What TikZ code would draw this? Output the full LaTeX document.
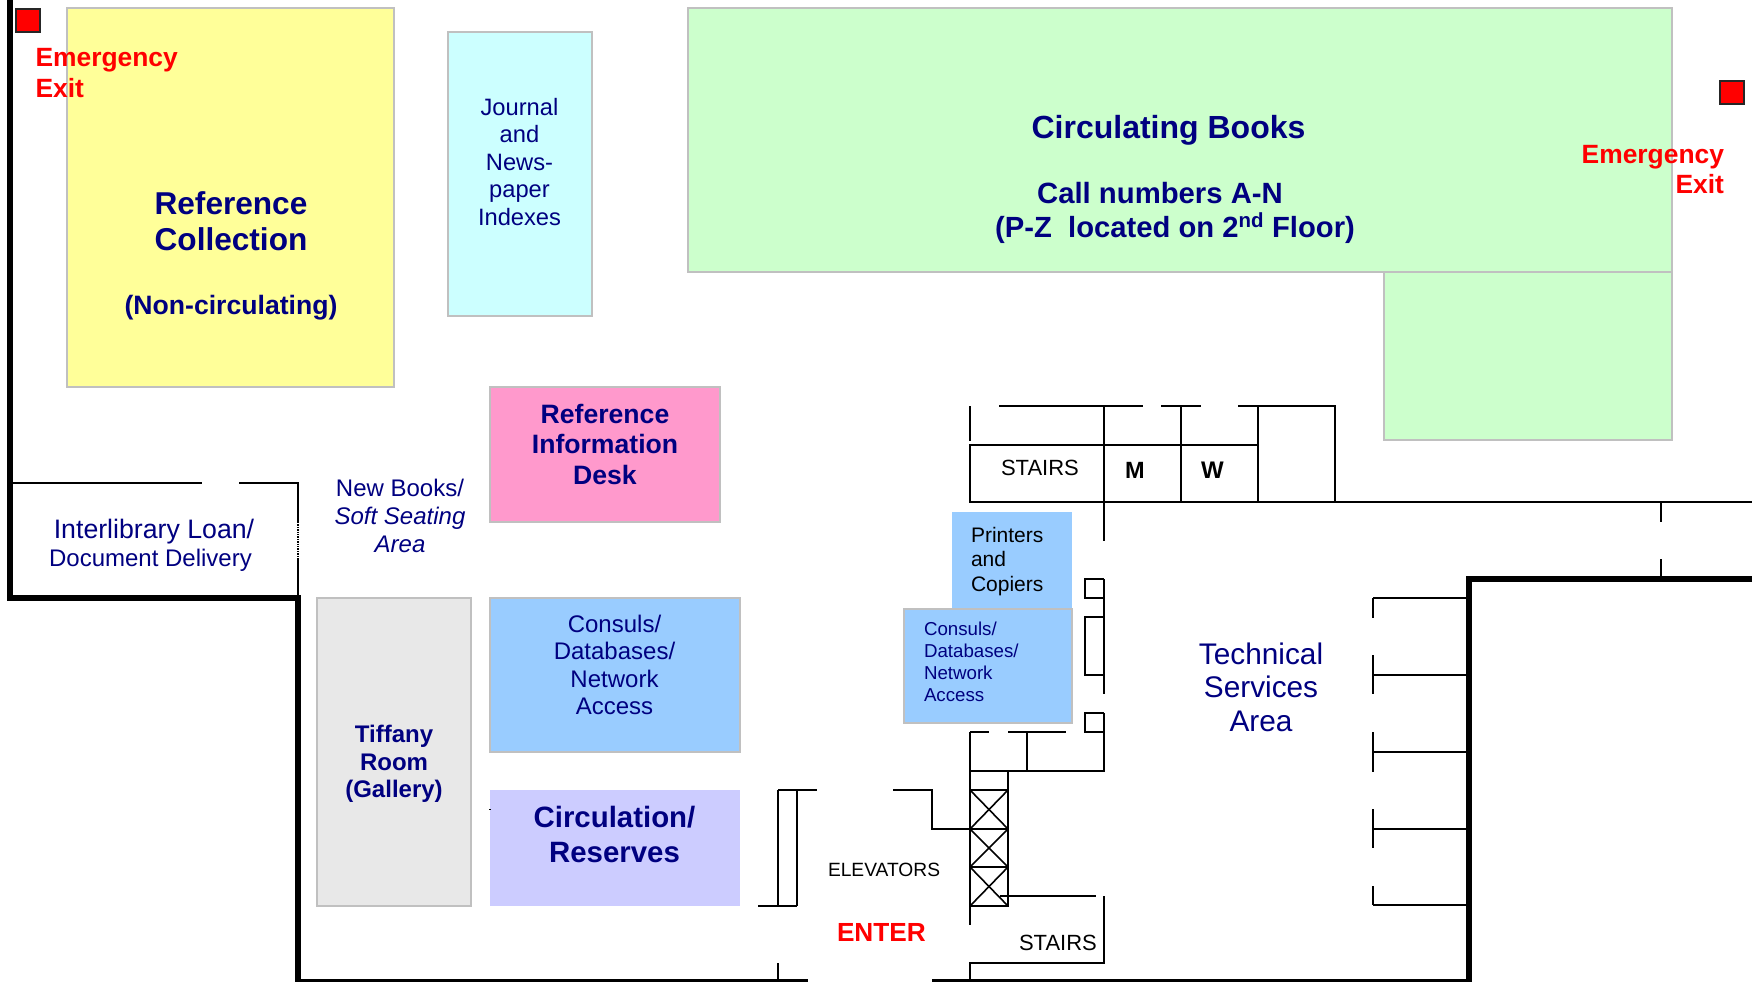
\documentclass[tikz,border=0pt]{standalone}
\usepackage{fontspec}
\setmainfont{Liberation Sans}
\definecolor{navyt}{HTML}{000080}
\definecolor{bordg}{HTML}{C0C0C0}
\definecolor{greenf}{RGB}{204,255,204}
\definecolor{yellowf}{RGB}{255,255,153}
\definecolor{cyanf}{RGB}{204,255,255}
\definecolor{pinkf}{RGB}{255,153,204}
\definecolor{greyf}{RGB}{232,232,232}
\definecolor{bluef}{RGB}{153,204,255}
\definecolor{lilacf}{RGB}{204,204,255}
\newcommand{\fs}[2]{\fontsize{#1}{#2}\selectfont}
\tikzset{
  x=1pt,y=-1pt,
  room/.style={draw=bordg,line width=1.6pt},
  wall/.style={draw=black,line width=5.5pt,line join=miter},
  thin wall/.style={draw=black,line width=1.6pt,line cap=butt},
  floor line/.style={draw=black,line width=3pt},
  exit box/.style={draw=black!85,line width=1.4pt,fill=red},
  lab/.style={anchor=base,inner sep=0pt,outer sep=0pt,align=center,text=navyt},
  labl/.style={anchor=base west,inner sep=0pt,outer sep=0pt,align=left},
  labr/.style={anchor=base east,inner sep=0pt,outer sep=0pt,align=right},
  emerg/.style={text=red,font=\bfseries\fs{26.4}{30.5}},
}
\begin{document}
\begin{tikzpicture}
\useasboundingbox (0,0) rectangle (1752,982);
% coloured areas
\draw[room,fill=greenf] (1384,272) rectangle (1672,440);
\draw[room,fill=greenf] (688,8) rectangle (1672,272);
\draw[room,fill=yellowf] (67,8) rectangle (394,387);
\draw[room,fill=cyanf] (448,32) rectangle (592,316);
\draw[room,fill=pinkf] (490,387) rectangle (720,522);
\draw[room,fill=greyf] (317,598) rectangle (471,906);
\draw[room,fill=bluef] (490,598) rectangle (740,752);
\fill[lilacf] (490,790) rectangle (740,906);
\fill[bluef] (952,512) rectangle (1072,609);
\draw[room,fill=bluef] (904,609) rectangle (1072,723);
% exterior walls
\draw[wall] (10,0) -- (10,598) -- (298,598) -- (298,982);
\draw[wall] (1752,579) -- (1469,579) -- (1469,982);
\draw[floor line] (298,980) -- (808,980);
\draw[floor line] (932,980) -- (1469,980);
% interlibrary room
\draw[thin wall] (10,483) -- (202,483);
\draw[thin wall] (239,483) -- (298,483) -- (298,522);
\draw[draw=black,line width=1.4pt,densely dotted] (298,522) -- (298,558);
\draw[thin wall] (298,558) -- (298,598);
% upper core
\draw[thin wall] (999,406) -- (1143,406);
\draw[thin wall] (1161,406) -- (1201,406);
\draw[thin wall] (1238,406) -- (1335,406) -- (1335,502);
\draw[thin wall] (970,406) -- (970,441);
\draw[thin wall] (970,445) rectangle (1258,502);
\draw[thin wall] (1104,406) -- (1104,541);
\draw[thin wall] (1181,406) -- (1181,502);
\draw[thin wall] (1258,406) -- (1258,502);
\draw[thin wall] (1258,502) -- (1752,502);
\draw[thin wall] (1661,502) -- (1661,522);
\draw[thin wall] (1661,559) -- (1661,579);
% columns along the corridor
\draw[thin wall] (1104,579) -- (1085,579) -- (1085,598) -- (1104,598);
\draw[thin wall] (1104,617) -- (1085,617) -- (1085,675) -- (1104,675);
\draw[thin wall] (1104,579) -- (1104,694);
\draw[thin wall] (1104,713) -- (1085,713) -- (1085,732) -- (1104,732);
\draw[thin wall] (1104,713) -- (1104,771) -- (970,771);
\draw[thin wall] (970,732) -- (989,732);
\draw[thin wall] (1008,732) -- (1066,732);
\draw[thin wall] (970,732) -- (970,925);
\draw[thin wall] (1027,732) -- (1027,771);
% elevators
\draw[thin wall] (1008,771) -- (1008,906);
\foreach \ya/\yb in {790/829,829/867,867/906}{
  \draw[thin wall] (970,\ya) rectangle (1008,\yb);
  \draw[thin wall] (970,\ya) -- (1008,\yb);
  \draw[thin wall] (1008,\ya) -- (970,\yb);
}
\draw[thin wall] (778,790) -- (817,790);
\draw[thin wall] (778,790) -- (778,906);
\draw[thin wall] (797,790) -- (797,906);
\draw[thin wall] (758,906) -- (797,906);
\draw[thin wall] (893,790) -- (932,790) -- (932,829) -- (970,829);
\draw[thin wall] (1000,896) -- (1096,896);
\draw[thin wall] (1104,896) -- (1104,963) -- (970,963) -- (970,980);
\draw[thin wall] (778,963) -- (778,980);
\draw[draw=black,line width=0.8pt] (489,809) -- (491,809);
% right-hand partitions
\foreach \yy in {598,675,752,829,905}{
  \draw[thin wall] (1373,\yy) -- (1469,\yy);
}
\draw[thin wall] (1373,598) -- (1373,618);
\draw[thin wall] (1373,655) -- (1373,694);
\draw[thin wall] (1373,732) -- (1373,772);
\draw[thin wall] (1373,809) -- (1373,848);
\draw[thin wall] (1373,886) -- (1373,905);
% exits
\draw[exit box] (16,9) rectangle (40,32);
\draw[exit box] (1720,81) rectangle (1744,104);
\node[labl,emerg] (exitl) at (35.5,97) {Emergency\\Exit};
\node[labr,emerg] (exitr) at (1724,193.5) {Emergency\\Exit};
% labels
\node[lab,font=\bfseries\fs{31.6}{36}] (refcoll) at (231,250.5) {Reference\\Collection};
\node[lab,font=\bfseries\fs{26.6}{30}] (noncirc) at (231,314) {(Non-circulating)};
\node[lab,font=\fs{23.7}{27.5}] (journal) at (519.5,225) {Journal\\and\\News-\\paper\\Indexes};
\node[lab,font=\bfseries\fs{32}{36}] (circbooks) at (1168.5,138) {Circulating Books};
\node[lab,font=\bfseries\fs{29.3}{33}] (callnum) at (1160,203) {Call numbers A-N};
\node[lab,font=\bfseries\fs{29.2}{33}] (pz) at (1175,237) {(P-Z\ \ located on 2\textsuperscript{nd} Floor)};
\node[lab,font=\bfseries\fs{26.6}{30.5}] (desk) at (605,484) {Reference\\Information\\Desk};
\node[lab,font=\fs{24}{28}] (newbooks) at (400,552) {New Books/\\\itshape Soft Seating\\\itshape Area};
\node[lab,font=\fs{26.7}{30}] (ill) at (154,538) {Interlibrary Loan/};
\node[lab,font=\fs{24}{30}] (doc) at (150.5,566) {Document Delivery};
\node[lab,font=\bfseries\fs{24}{27.5}] (tiffany) at (394,797.5) {Tiffany\\Room\\(Gallery)};
\node[lab,font=\fs{24}{27.5}] (consuls) at (614.5,714.5) {Consuls/\\Databases/\\Network\\Access};
\node[lab,font=\bfseries\fs{29.4}{34.5}] (circ) at (614.5,862) {Circulation/\\Reserves};
\node[labl,font=\fs{21}{24.5}] (printers) at (971,591) {Printers\\and\\Copiers};
\node[labl,text=navyt,font=\fs{18.7}{21.7}] (consuls2) at (924,701) {Consuls/\\Databases/\\Network\\Access};
\node[lab,font=\fs{29.8}{33.5}] (tech) at (1261,731) {Technical\\Services\\Area};
\node[labl,font=\fs{22}{25}] (stairsa) at (1001,475) {STAIRS};
\node[labl,font=\bfseries\fs{23.5}{25}] (men) at (1125,478.5) {M};
\node[labl,font=\bfseries\fs{24}{25}] (women) at (1201,478.5) {W};
\node[labl,font=\fs{19.2}{22}] (elev) at (828,876) {ELEVATORS};
\node[labl,text=red,font=\bfseries\fs{26.2}{30}] (enter) at (837,941.5) {ENTER};
\node[labl,font=\fs{22}{25}] (stairsb) at (1019,950) {STAIRS};
\end{tikzpicture}
\end{document}
